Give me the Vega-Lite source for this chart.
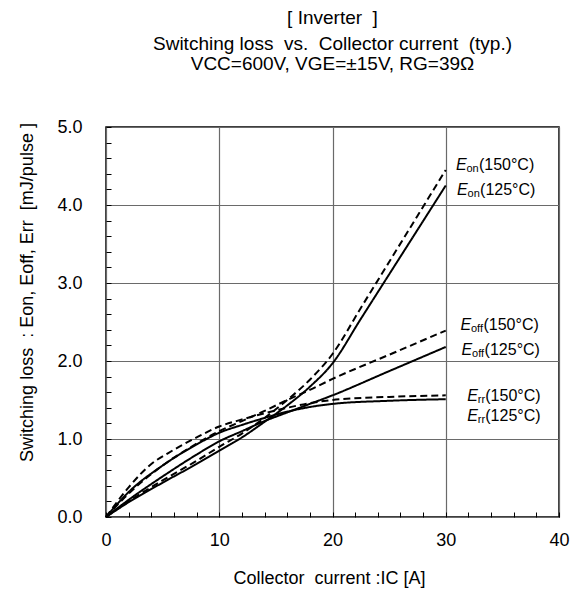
{
  "$schema": "https://vega.github.io/schema/vega-lite/v6.json",
  "width": 453,
  "height": 390,
  "autosize": {"type": "none"},
  "padding": {"left": 106, "top": 127, "right": 15, "bottom": 82},
  "background": "white",
  "config": {
    "font": "Liberation Sans",
    "view": {"stroke": "black", "strokeWidth": 1.5}
  },
  "title": {
    "text": ["[ Inverter \u00a0]", "Switching loss \u00a0vs. \u00a0Collector current \u00a0(typ.)"],
    "subtitle": "VCC=600V, VGE=±15V, RG=39Ω",
    "fontSize": 19,
    "fontWeight": "normal",
    "subtitleFontSize": 19,
    "lineHeight": 26,
    "subtitleLineHeight": 26,
    "subtitlePadding": 1,
    "anchor": "middle",
    "offset": 44,
    "color": "black",
    "subtitleColor": "black"
  },
  "resolve": {"axis": {"x": "independent", "y": "independent"}},
  "datasets": {
    "curves": [
      {"series": "Eon", "temp": "150°C", "ic": 0, "e": 0},
      {"series": "Eon", "temp": "150°C", "ic": 2, "e": 0.2},
      {"series": "Eon", "temp": "150°C", "ic": 5, "e": 0.47},
      {"series": "Eon", "temp": "150°C", "ic": 8, "e": 0.72},
      {"series": "Eon", "temp": "150°C", "ic": 10, "e": 0.9},
      {"series": "Eon", "temp": "150°C", "ic": 12, "e": 1.07},
      {"series": "Eon", "temp": "150°C", "ic": 14, "e": 1.27},
      {"series": "Eon", "temp": "150°C", "ic": 16, "e": 1.5},
      {"series": "Eon", "temp": "150°C", "ic": 18, "e": 1.76},
      {"series": "Eon", "temp": "150°C", "ic": 20, "e": 2.09},
      {"series": "Eon", "temp": "150°C", "ic": 22.5, "e": 2.68},
      {"series": "Eon", "temp": "150°C", "ic": 25, "e": 3.27},
      {"series": "Eon", "temp": "150°C", "ic": 27.5, "e": 3.86},
      {"series": "Eon", "temp": "150°C", "ic": 30, "e": 4.45},
      {"series": "Eon", "temp": "125°C", "ic": 0, "e": 0},
      {"series": "Eon", "temp": "125°C", "ic": 2, "e": 0.19},
      {"series": "Eon", "temp": "125°C", "ic": 5, "e": 0.44},
      {"series": "Eon", "temp": "125°C", "ic": 8, "e": 0.68},
      {"series": "Eon", "temp": "125°C", "ic": 10, "e": 0.85},
      {"series": "Eon", "temp": "125°C", "ic": 12, "e": 1.02},
      {"series": "Eon", "temp": "125°C", "ic": 14, "e": 1.22},
      {"series": "Eon", "temp": "125°C", "ic": 16, "e": 1.43},
      {"series": "Eon", "temp": "125°C", "ic": 18, "e": 1.67},
      {"series": "Eon", "temp": "125°C", "ic": 20, "e": 1.97},
      {"series": "Eon", "temp": "125°C", "ic": 22.5, "e": 2.54},
      {"series": "Eon", "temp": "125°C", "ic": 25, "e": 3.11},
      {"series": "Eon", "temp": "125°C", "ic": 27.5, "e": 3.68},
      {"series": "Eon", "temp": "125°C", "ic": 30, "e": 4.25},
      {"series": "Eoff", "temp": "150°C", "ic": 0, "e": 0},
      {"series": "Eoff", "temp": "150°C", "ic": 2, "e": 0.3},
      {"series": "Eoff", "temp": "150°C", "ic": 5, "e": 0.66},
      {"series": "Eoff", "temp": "150°C", "ic": 8, "e": 0.94},
      {"series": "Eoff", "temp": "150°C", "ic": 10, "e": 1.1},
      {"series": "Eoff", "temp": "150°C", "ic": 12, "e": 1.23},
      {"series": "Eoff", "temp": "150°C", "ic": 14, "e": 1.36},
      {"series": "Eoff", "temp": "150°C", "ic": 16, "e": 1.5},
      {"series": "Eoff", "temp": "150°C", "ic": 18, "e": 1.63},
      {"series": "Eoff", "temp": "150°C", "ic": 20, "e": 1.77},
      {"series": "Eoff", "temp": "150°C", "ic": 25, "e": 2.08},
      {"series": "Eoff", "temp": "150°C", "ic": 30, "e": 2.39},
      {"series": "Eoff", "temp": "125°C", "ic": 0, "e": 0},
      {"series": "Eoff", "temp": "125°C", "ic": 2, "e": 0.22},
      {"series": "Eoff", "temp": "125°C", "ic": 5, "e": 0.52},
      {"series": "Eoff", "temp": "125°C", "ic": 8, "e": 0.8},
      {"series": "Eoff", "temp": "125°C", "ic": 10, "e": 0.97},
      {"series": "Eoff", "temp": "125°C", "ic": 12, "e": 1.1},
      {"series": "Eoff", "temp": "125°C", "ic": 14, "e": 1.23},
      {"series": "Eoff", "temp": "125°C", "ic": 16, "e": 1.34},
      {"series": "Eoff", "temp": "125°C", "ic": 18, "e": 1.45},
      {"series": "Eoff", "temp": "125°C", "ic": 20, "e": 1.56},
      {"series": "Eoff", "temp": "125°C", "ic": 25, "e": 1.87},
      {"series": "Eoff", "temp": "125°C", "ic": 30, "e": 2.18},
      {"series": "Err", "temp": "150°C", "ic": 0, "e": 0},
      {"series": "Err", "temp": "150°C", "ic": 2, "e": 0.38},
      {"series": "Err", "temp": "150°C", "ic": 4, "e": 0.68},
      {"series": "Err", "temp": "150°C", "ic": 5.5, "e": 0.82},
      {"series": "Err", "temp": "150°C", "ic": 8, "e": 1.02},
      {"series": "Err", "temp": "150°C", "ic": 10, "e": 1.16},
      {"series": "Err", "temp": "150°C", "ic": 12, "e": 1.25},
      {"series": "Err", "temp": "150°C", "ic": 14, "e": 1.33},
      {"series": "Err", "temp": "150°C", "ic": 16, "e": 1.4},
      {"series": "Err", "temp": "150°C", "ic": 18, "e": 1.46},
      {"series": "Err", "temp": "150°C", "ic": 20, "e": 1.5},
      {"series": "Err", "temp": "150°C", "ic": 25, "e": 1.54},
      {"series": "Err", "temp": "150°C", "ic": 30, "e": 1.56},
      {"series": "Err", "temp": "125°C", "ic": 0, "e": 0},
      {"series": "Err", "temp": "125°C", "ic": 2, "e": 0.32},
      {"series": "Err", "temp": "125°C", "ic": 5, "e": 0.66},
      {"series": "Err", "temp": "125°C", "ic": 8, "e": 0.93},
      {"series": "Err", "temp": "125°C", "ic": 10, "e": 1.08},
      {"series": "Err", "temp": "125°C", "ic": 12, "e": 1.18},
      {"series": "Err", "temp": "125°C", "ic": 14, "e": 1.27},
      {"series": "Err", "temp": "125°C", "ic": 16, "e": 1.35},
      {"series": "Err", "temp": "125°C", "ic": 18, "e": 1.41},
      {"series": "Err", "temp": "125°C", "ic": 20, "e": 1.45},
      {"series": "Err", "temp": "125°C", "ic": 25, "e": 1.49},
      {"series": "Err", "temp": "125°C", "ic": 30, "e": 1.51}
    ],
    "labels": [
      {"sub": "on", "rest": "(150°C)", "ic": 30.9, "e": 4.51},
      {"sub": "on", "rest": "(125°C)", "ic": 31.0, "e": 4.19},
      {"sub": "off", "rest": "(150°C)", "ic": 31.3, "e": 2.46},
      {"sub": "off", "rest": "(125°C)", "ic": 31.4, "e": 2.14},
      {"sub": "rr", "rest": "(150°C)", "ic": 31.9, "e": 1.55},
      {"sub": "rr", "rest": "(125°C)", "ic": 31.9, "e": 1.3}
    ]
  },
  "layer": [
    {
      "data": {"name": "curves"},
      "mark": {"type": "line", "interpolate": "monotone", "strokeWidth": 2, "color": "black"},
      "encoding": {
        "x": {
          "field": "ic", "type": "quantitative",
          "scale": {"domain": [0, 40]},
          "axis": {
            "orient": "bottom",
            "title": "Collector \u00a0current :IC [A]",
            "values": [0, 10, 20, 30, 40],
            "format": "d",
            "labelOverlap": false,
            "labelFlush": false,
            "labelFontSize": 18,
            "labelColor": "black",
            "labelPadding": 14,
            "ticks": false,
            "domain": false,
            "grid": true,
            "gridColor": "#6a6a6a",
            "gridWidth": 1.2,
            "titleFontSize": 18,
            "titleFontWeight": "normal",
            "titleColor": "black",
            "titleX": 223,
            "titleY": 66,
            "titleBaseline": "alphabetic"
          }
        },
        "y": {
          "field": "e", "type": "quantitative",
          "scale": {"domain": [0, 5]},
          "axis": {
            "orient": "left",
            "title": "Switching loss \u00a0: Eon, Eoff, Err \u00a0[mJ/pulse ]",
            "values": [0, 1, 2, 3, 4, 5],
            "format": ".1f",
            "labelOverlap": false,
            "labelFlush": false,
            "labelFontSize": 18,
            "labelColor": "black",
            "labelPadding": 24,
            "ticks": false,
            "domain": false,
            "grid": true,
            "gridColor": "#6a6a6a",
            "gridWidth": 1.2,
            "titleFontSize": 18,
            "titleFontWeight": "normal",
            "titleColor": "black",
            "titleX": -79,
            "titleY": 165,
            "titleAlign": "center",
            "titleBaseline": "middle"
          }
        },
        "detail": {"field": "series"},
        "strokeDash": {
          "field": "temp", "type": "nominal",
          "scale": {"domain": ["125°C", "150°C"], "range": [[1, 0], [7, 4]]},
          "legend": null
        }
      }
    },
    {
      "data": {"name": "labels"},
      "mark": {"type": "text", "text": "E", "fontStyle": "italic", "fontSize": 16, "align": "left", "baseline": "middle", "color": "black"},
      "encoding": {
        "x": {
          "field": "ic", "type": "quantitative",
          "axis": {
            "orient": "bottom",
            "title": null,
            "values": [0, 2, 4, 6, 8, 10, 12, 14, 16, 18, 20, 22, 24, 26, 28, 30, 32, 34, 36, 38, 40],
            "tickCount": 1000,
            "labels": false,
            "grid": false,
            "domain": false,
            "tickSize": -5,
            "tickColor": "black"
          }
        },
        "y": {
          "field": "e", "type": "quantitative",
          "axis": {
            "orient": "left",
            "title": null,
            "values": [0, 0.2, 0.4, 0.6, 0.8, 1, 1.2, 1.4, 1.6, 1.8, 2, 2.2, 2.4, 2.6, 2.8, 3, 3.2, 3.4, 3.6, 3.8, 4, 4.2, 4.4, 4.6, 4.8, 5],
            "tickCount": 1000,
            "labels": false,
            "grid": false,
            "domain": false,
            "tickSize": -5,
            "tickColor": "black"
          }
        }
      }
    },
    {
      "data": {"name": "labels"},
      "mark": {"type": "text", "fontSize": 11, "align": "left", "baseline": "middle", "dx": 10.5, "dy": 4, "color": "black"},
      "encoding": {
        "x": {"field": "ic", "type": "quantitative", "axis": null},
        "y": {"field": "e", "type": "quantitative", "axis": null},
        "text": {"field": "sub"}
      }
    },
    {
      "data": {"name": "labels"},
      "transform": [{"filter": "datum.sub !== 'rr'"}],
      "mark": {"type": "text", "fontSize": 16, "align": "left", "baseline": "middle", "dx": 23, "color": "black"},
      "encoding": {
        "x": {"field": "ic", "type": "quantitative", "axis": null},
        "y": {"field": "e", "type": "quantitative", "axis": null},
        "text": {"field": "rest"}
      }
    },
    {
      "data": {"name": "labels"},
      "transform": [{"filter": "datum.sub === 'rr'"}],
      "mark": {"type": "text", "fontSize": 16, "align": "left", "baseline": "middle", "dx": 18, "color": "black"},
      "encoding": {
        "x": {"field": "ic", "type": "quantitative", "axis": null},
        "y": {"field": "e", "type": "quantitative", "axis": null},
        "text": {"field": "rest"}
      }
    }
  ]
}
